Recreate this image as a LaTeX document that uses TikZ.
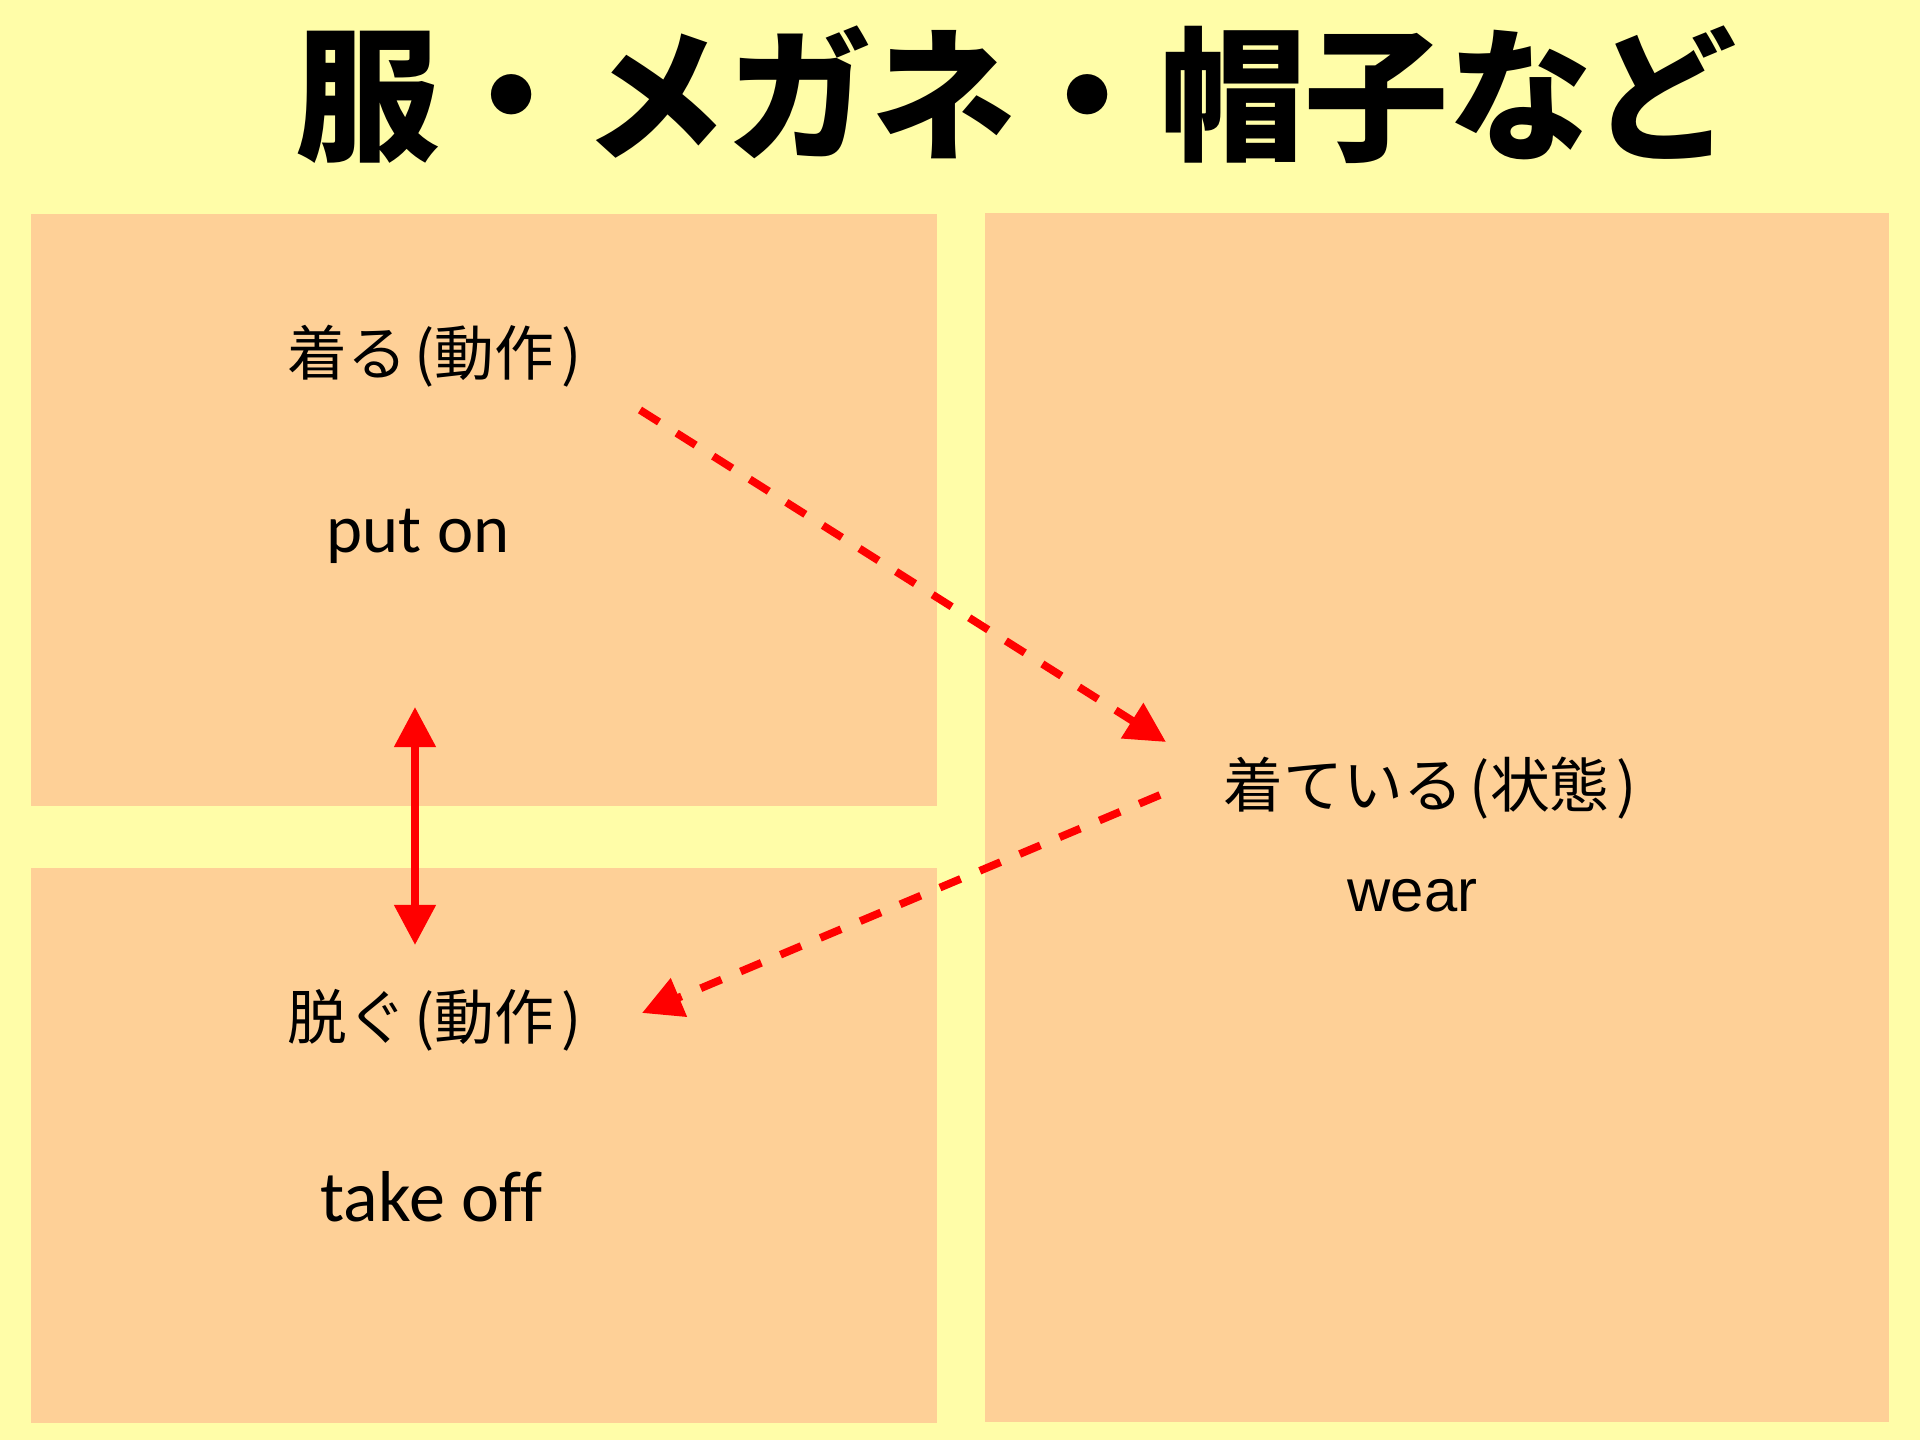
\documentclass[tikz,border=0pt]{standalone}
\usepackage{fontspec}
\setmainfont{Liberation Sans}
\newfontfamily\jpfont{Noto Sans CJK JP}
\newfontfamily\latfont[Ligatures=CommonOff]{Carlito}
\newfontfamily\arialfont{Liberation Sans}
\usetikzlibrary{arrows.meta}
\definecolor{bgyellow}{HTML}{FFFDA8}
\definecolor{boxpeach}{HTML}{FED097}
\definecolor{arrred}{HTML}{FF0000}
\newcommand{\lp}{\hspace{0.12em}(}
\newcommand{\rp}{\hspace{0.12em})}
\begin{document}
\begin{tikzpicture}[x=0.01cm,y=-0.01cm,
  panel/.style={fill=boxpeach, draw=none},
  titletext/.style={font=\jpfont\bfseries\fontsize{41}{48}\selectfont, inner sep=0, anchor=base},
  jplabel/.style={font=\jpfont\fontsize{17}{20}\selectfont, inner sep=0, anchor=base west},
  enlabel/.style={font=\latfont\fontsize{20.5}{24}\selectfont, inner sep=0, anchor=base west},
  arlabel/.style={font=\arialfont\fontsize{17}{20}\selectfont, inner sep=0, anchor=base west},
  redhead/.tip={Triangle[length=11.4pt,width=11.4pt]},
  solidarrow/.style={draw=arrred, line width=2.2pt, redhead-redhead},
  dasharrow/.style={draw=arrred, line width=2.2pt, dash pattern=on 6.4pt off 5.9pt, -redhead}
]
% background and bounding box
\path[use as bounding box, fill=bgyellow] (0,0) rectangle (1920,1440);
% panels
\fill[panel] (30.6,214.3) rectangle (936.7,805.7);
\fill[panel] (30.6,868.2) rectangle (936.7,1422.9);
\fill[panel] (984.5,213) rectangle (1889.4,1421.7);
% title
\node[titletext] (title) at (1016,150) {服・メガネ・帽子など};
% labels
\node[jplabel] (kiru) at (287,376) {着る\lp 動作\rp};
\node[enlabel, font=\latfont\fontsize{19.5}{24}\selectfont] (puton) at (326,553) {put on};
\node[jplabel] (kiteiru) at (1223,808) {着ている\lp 状態\rp};
\node[arlabel] (wear) at (1347,912) {wear};
\node[jplabel] (nugu) at (287,1040) {脱ぐ\lp 動作\rp};
\node[enlabel] (takeoff) at (320,1222) {take off};
% connector ends
\coordinate (a1s) at (640,410);
\coordinate (a1e) at (1166,742);
\coordinate (a2s) at (1160,795);
\coordinate (a2e) at (642,1013);
\coordinate (vtop) at (415,707);
\coordinate (vbot) at (415,945);
% connectors
\draw[dasharrow] (a1s) -- (a1e);
\draw[dasharrow] (a2s) -- (a2e);
\draw[solidarrow] (vtop) -- (vbot);
\end{tikzpicture}
\end{document}
